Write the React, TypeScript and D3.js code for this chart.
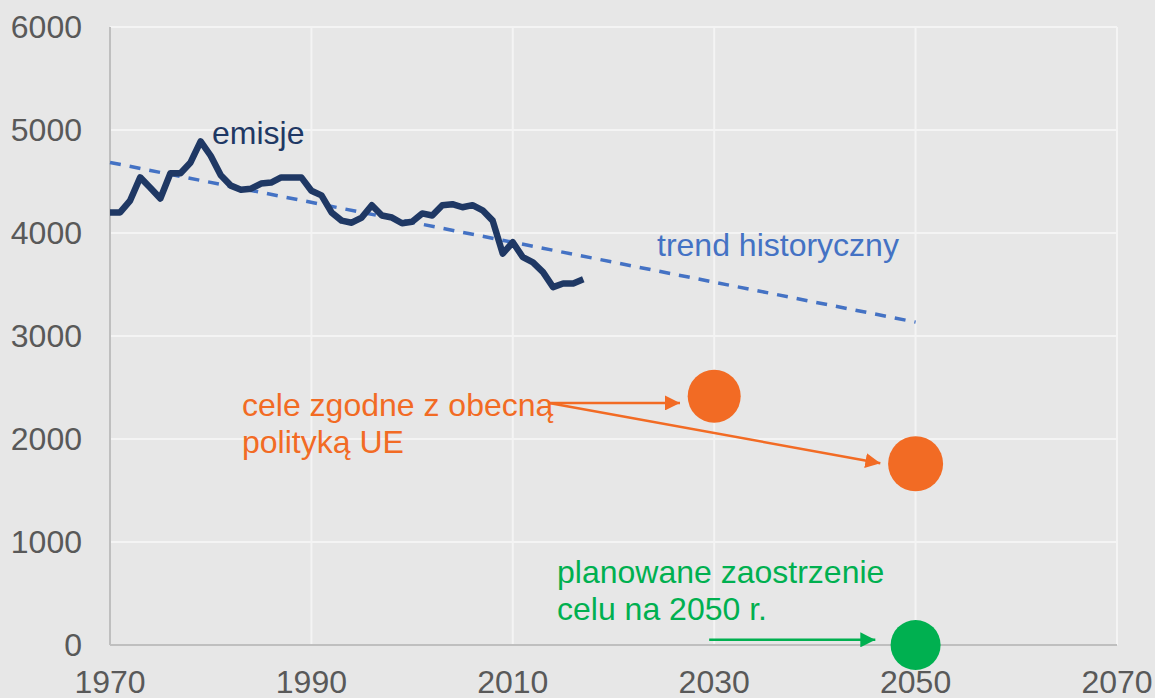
import React from "react";
import * as d3 from "d3";

const years = d3.range(1970, 2018);
const emissions = [
  4200, 4200, 4315, 4540, 4440, 4335, 4580, 4580, 4685, 4890,
  4750, 4560, 4460, 4420, 4430, 4480, 4490, 4540, 4540, 4540,
  4410, 4365, 4200, 4120, 4100, 4150, 4270, 4170, 4150, 4095,
  4110, 4190, 4170, 4270, 4280, 4250, 4270, 4220, 4120, 3800,
  3910, 3765, 3715, 3620, 3475, 3510, 3510, 3550,
];
const trendYears = [1970, 2050];
const trendValues = [4685, 3135];
const targetYears = [2030, 2050];
const targetValues = [2415, 1760];
const strictYear = 2050;
const strictValue = 0;
const xTicks = [1970, 1990, 2010, 2030, 2050, 2070];
const yTicks = [0, 1000, 2000, 3000, 4000, 5000, 6000];

const W = 1155;
const H = 698;
const FONT = "'Liberation Sans', Arial, sans-serif";
const NAVY = "#1F3864";
const BLUE = "#4472C4";
const ORANGE = "#F26B24";
const GREEN = "#00B050";
const TICKC = "#595959";

export default function App() {
  const x = d3.scaleLinear().domain([1970, 2070]).range([110, 1117]);
  const y = d3.scaleLinear().domain([0, 6000]).range([645, 27]);

  const line = d3
    .line<number>()
    .x((_, i) => x(years[i]))
    .y((d) => y(d))
    .curve(d3.curveLinear);

  const arrowStart: [number, number] = [x(2013.6), y(2350)];

  return (
    <svg
      width={W}
      height={H}
      style={{ position: "absolute", left: 0, top: 0, fontFamily: FONT }}
    >
      <defs>
        <marker id="arO" viewBox="0 0 10 10" refX="10" refY="5" markerWidth="15" markerHeight="15" markerUnits="userSpaceOnUse" orient="auto">
          <path d="M0,0 L10,5 L0,10 Z" fill={ORANGE} />
        </marker>
        <marker id="arG" viewBox="0 0 10 10" refX="10" refY="5" markerWidth="15" markerHeight="15" markerUnits="userSpaceOnUse" orient="auto">
          <path d="M0,0 L10,5 L0,10 Z" fill={GREEN} />
        </marker>
      </defs>
      <rect x={0} y={0} width={W} height={H} fill="#E7E7E7" />
      {/* gridlines */}
      {yTicks.filter((t) => t > 0).map((t) => (
        <line key={"gy" + t} x1={x(1970)} x2={x(2070)} y1={y(t)} y2={y(t)} stroke="#F4F4F4" strokeWidth={2} />
      ))}
      {xTicks.filter((t) => t > 1970).map((t) => (
        <line key={"gx" + t} x1={x(t)} x2={x(t)} y1={y(0)} y2={y(6000)} stroke="#F4F4F4" strokeWidth={2} />
      ))}
      {/* axes */}
      <line x1={x(1970)} x2={x(1970)} y1={y(0)} y2={y(6000)} stroke="#BFBFBF" strokeWidth={2} />
      <line x1={x(1970)} x2={x(2070)} y1={y(0)} y2={y(0)} stroke="#BFBFBF" strokeWidth={2} />
      {/* tick labels */}
      {yTicks.map((t) => (
        <text key={"ly" + t} x={82} y={y(t) + 11} textAnchor="end" fontSize={32} fill={TICKC}>
          {t}
        </text>
      ))}
      {xTicks.map((t) => (
        <text key={"lx" + t} x={x(t)} y={693} textAnchor="middle" fontSize={32} fill={TICKC}>
          {t}
        </text>
      ))}
      {/* trend */}
      <line
        x1={x(trendYears[0])}
        y1={y(trendValues[0])}
        x2={x(trendYears[1])}
        y2={y(trendValues[1])}
        stroke={BLUE}
        strokeWidth={3.5}
        strokeDasharray="11 9"
      />
      {/* emissions */}
      <path d={line(emissions) || ""} fill="none" stroke={NAVY} strokeWidth={6.5} strokeLinejoin="round" />
      {/* arrows */}
      <line x1={arrowStart[0]} y1={arrowStart[1]} x2={x(2026.6)} y2={arrowStart[1]} stroke={ORANGE} strokeWidth={2.5} markerEnd="url(#arO)" />
      <line x1={arrowStart[0]} y1={arrowStart[1]} x2={x(2046.5)} y2={y(1765)} stroke={ORANGE} strokeWidth={2.5} markerEnd="url(#arO)" />
      <line x1={x(2029.5)} y1={y(50)} x2={x(2046)} y2={y(50)} stroke={GREEN} strokeWidth={2.5} markerEnd="url(#arG)" />
      {/* targets */}
      <circle cx={x(targetYears[0])} cy={y(targetValues[0])} r={26.5} fill={ORANGE} />
      <circle cx={x(targetYears[1])} cy={y(targetValues[1])} r={27.5} fill={ORANGE} />
      <circle cx={x(strictYear)} cy={y(strictValue)} r={25} fill={GREEN} />
      {/* annotations */}
      <text x={212} y={144} fontSize={32} fill={NAVY}>emisje</text>
      <text x={657} y={256} fontSize={32} fill={BLUE}>trend historyczny</text>
      <text x={242} y={416} fontSize={32} fill={ORANGE}>cele zgodne z obecną</text>
      <text x={242} y={453} fontSize={32} fill={ORANGE}>polityką UE</text>
      <text x={557} y={583} fontSize={32} fill={GREEN}>planowane zaostrzenie</text>
      <text x={557} y={620} fontSize={32} fill={GREEN}>celu na 2050 r.</text>
    </svg>
  );
}
